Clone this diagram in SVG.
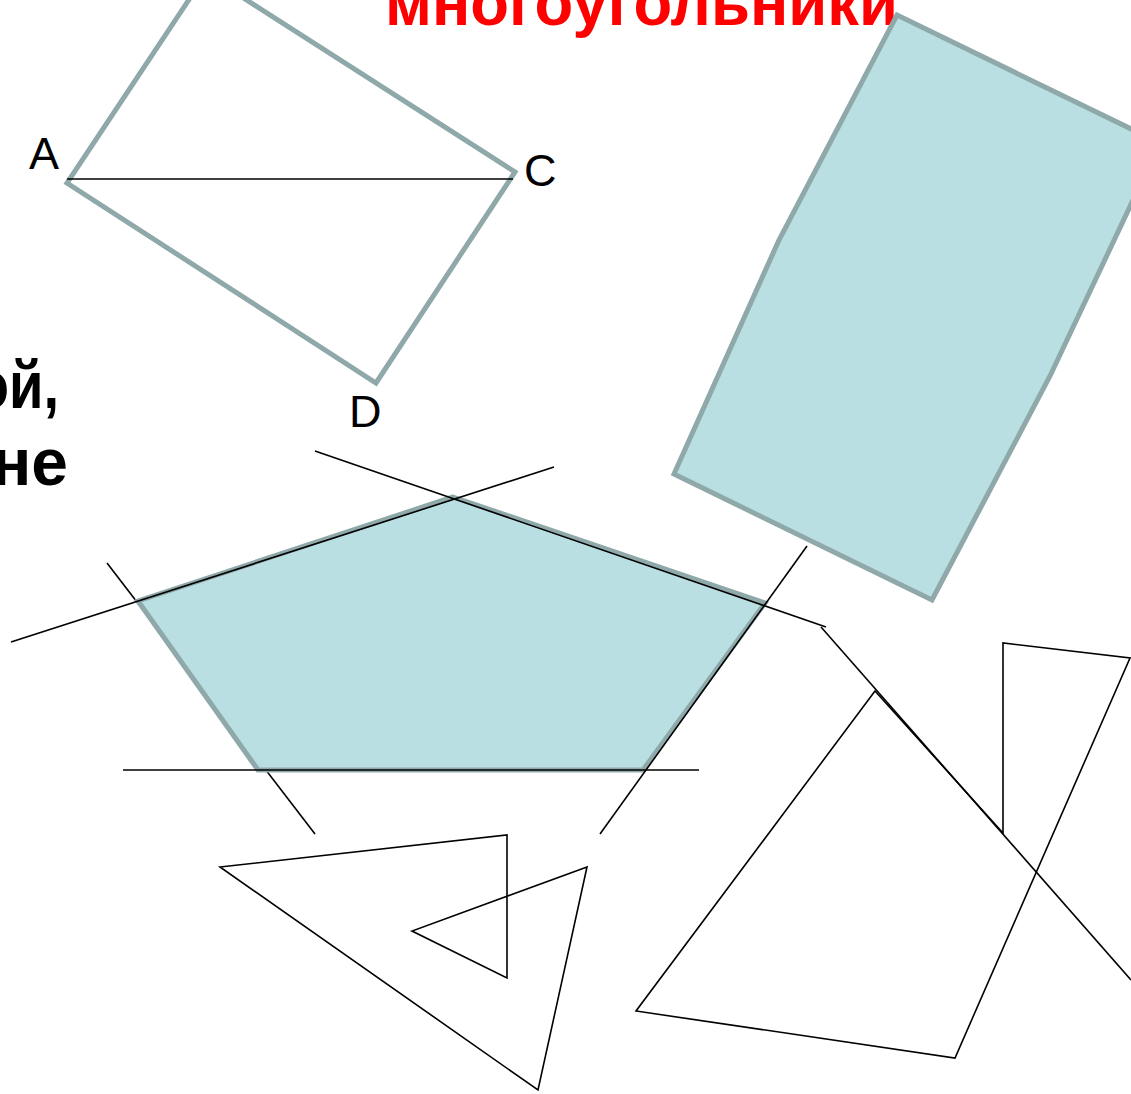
<svg xmlns="http://www.w3.org/2000/svg" width="1131" height="1094" viewBox="0 0 1131 1094">
<style>
.shape{fill:#BADFE2;stroke:#8FA8A9;stroke-width:5;stroke-linejoin:miter}
.outline{fill:none;stroke:#8FA8A9;stroke-width:5}
.ln{fill:none;stroke:#000;stroke-width:1.6;stroke-linejoin:miter}
.lbl{font-family:"Liberation Sans",Arial,sans-serif;font-size:45px;fill:#000}
.big{font-family:"Liberation Sans",Arial,sans-serif;font-weight:bold;font-size:66px;fill:#000}
.title{font-family:"Liberation Sans",Arial,sans-serif;font-weight:bold;font-size:64px;fill:#FF0000}
</style>
<rect width="1131" height="1094" fill="#fff"/>
<g id="title"><text class="title" x="385" y="25" textLength="513" lengthAdjust="spacingAndGlyphs">многоугольники</text></g>
<g id="text-left">
<text class="big" transform="translate(59,408) scale(0.85,1)" x="0" y="0" text-anchor="end">ой,</text>
<text class="big" x="68" y="485" text-anchor="end">не</text>
</g>
<g id="rect-ABCD">
<polygon class="outline" points="206,-26 515,172 376,383 67,183"/>
<line class="ln" x1="67" y1="179" x2="513" y2="179"/>
<text class="lbl" x="29" y="169">A</text>
<text class="lbl" x="524" y="186">C</text>
<text class="lbl" x="349" y="427">D</text>
</g>
<g id="hexagon-right">
<polygon class="shape" points="897,15 1160,143 1050,376 932,600 674,474 779,240"/>
</g>
<g id="connectors-under">
<line class="ln" x1="107" y1="563" x2="315" y2="834"/>
</g>
<g id="pentagon">
<polygon class="shape" stroke-width="4" points="453,497 765,603 643,770 258,770 138,601"/>
</g>
<g id="connectors">
<line class="ln" x1="315" y1="451" x2="826" y2="627"/>
<line class="ln" x1="554" y1="467" x2="11" y2="642"/>
<line class="ln" x1="123" y1="770" x2="699" y2="770"/>
<line class="ln" x1="807" y1="546" x2="600" y2="834"/>
<line class="ln" x1="821" y1="627" x2="1131" y2="980"/>
</g>
<g id="hexagon-bottom-left">
<polygon class="ln" points="220,867 507,835 507,978 412,931 587,867 538,1090"/>
</g>
<g id="hexagon-bottom-right">
<polygon class="ln" points="875,691 636,1011 955,1058 1130,658 1003,643 1003,833"/>
</g>
</svg>
